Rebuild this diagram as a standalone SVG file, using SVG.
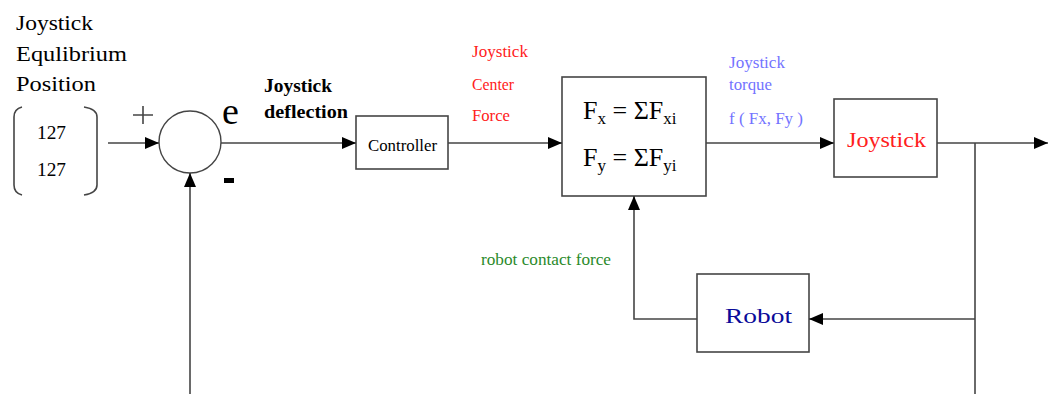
<svg xmlns="http://www.w3.org/2000/svg" width="1048" height="394" viewBox="0 0 1048 394">
  <style>
    .ln { stroke: #454545; stroke-width: 1.6; fill: none; }
    .box { stroke: #454545; stroke-width: 1.6; fill: #ffffff; }
    text { font-family: 'Liberation Serif', 'DejaVu Serif', serif; }
    .red { fill: #ff2020; }
    .blue { fill: #7373ff; }
  </style>
  <defs>
    <marker id="arrow" markerWidth="14" markerHeight="12" refX="14" refY="6" orient="auto" markerUnits="userSpaceOnUse">
      <path d="M0,0 L14,6 L0,12 Z" fill="#000000"/>
    </marker>
  </defs>
  <rect width="1048" height="394" fill="#ffffff"/>

  <!-- reference input -->
  <g id="reference">
    <text font-size="21" fill="#000" x="16" y="30" textLength="77" lengthAdjust="spacingAndGlyphs">Joystick</text>
    <text font-size="21" fill="#000" x="16" y="61" textLength="111" lengthAdjust="spacingAndGlyphs">Equlibrium</text>
    <text font-size="21" fill="#000" x="16" y="91" textLength="80" lengthAdjust="spacingAndGlyphs">Position</text>
    <path class="ln" d="M22,107 Q14,109 14,117 L14,185 Q14,193 22,195"/>
    <path class="ln" d="M84,107 Q97,109 97,117 L97,185 Q97,193 84,195"/>
    <text font-size="18" fill="#000" x="37" y="139" textLength="29" lengthAdjust="spacingAndGlyphs">127</text>
    <text font-size="18" fill="#000" x="37" y="176" textLength="29" lengthAdjust="spacingAndGlyphs">127</text>
  </g>

  <!-- summing junction -->
  <g id="sum">
    <circle cx="190" cy="142" r="31" fill="#ffffff" stroke="#454545" stroke-width="1.4"/>
    <path class="ln" d="M133,115 H153 M143,106 V124" stroke-width="1.2"/>
    <text font-size="38" fill="#000" x="222" y="124">e</text>
    <rect x="224" y="178" width="10" height="5" fill="#000"/>
  </g>

  <g id="deflection-label">
    <text font-size="18" font-weight="bold" fill="#000" x="264" y="92" textLength="68" lengthAdjust="spacingAndGlyphs">Joystick</text>
    <text font-size="18" font-weight="bold" fill="#000" x="264" y="118" textLength="84" lengthAdjust="spacingAndGlyphs">deflection</text>
  </g>

  <g id="controller">
    <rect class="box" x="356" y="116" width="92" height="53"/>
    <text font-size="16" fill="#000" x="368" y="151" textLength="69" lengthAdjust="spacingAndGlyphs">Controller</text>
  </g>

  <g id="center-force-label">
    <text class="red" font-size="16" x="472" y="57" textLength="56" lengthAdjust="spacingAndGlyphs">Joystick</text>
    <text class="red" font-size="16" x="472" y="90" textLength="42" lengthAdjust="spacingAndGlyphs">Center</text>
    <text class="red" font-size="16" x="472" y="121" textLength="38" lengthAdjust="spacingAndGlyphs">Force</text>
  </g>

  <g id="force-sum">
    <rect class="box" x="562" y="77" width="144" height="119"/>
    <text font-size="26" fill="#000" x="583" y="119">F<tspan font-size="17" dy="5">x</tspan><tspan dy="-5"> = </tspan>ΣF<tspan font-size="17" dy="5">xi</tspan></text>
    <text font-size="26" fill="#000" x="583" y="166">F<tspan font-size="17" dy="5">y</tspan><tspan dy="-5"> = </tspan>ΣF<tspan font-size="17" dy="5">yi</tspan></text>
  </g>

  <g id="torque-label">
    <text class="blue" font-size="16" x="729" y="68" textLength="56" lengthAdjust="spacingAndGlyphs">Joystick</text>
    <text class="blue" font-size="16" x="729" y="90" textLength="43" lengthAdjust="spacingAndGlyphs">torque</text>
    <text class="blue" font-size="16" x="729" y="124" textLength="74" lengthAdjust="spacingAndGlyphs">f ( Fx, Fy )</text>
  </g>

  <g id="joystick">
    <rect class="box" x="834" y="99" width="103" height="78"/>
    <text class="red" font-size="22" x="847" y="147" textLength="79" lengthAdjust="spacingAndGlyphs">Joystick</text>
  </g>

  <g id="robot">
    <rect class="box" x="697" y="274" width="112" height="78"/>
    <text font-size="21" fill="#0a0a99" x="725" y="323" textLength="67" lengthAdjust="spacingAndGlyphs">Robot</text>
  </g>

  <g id="contact-label">
    <text font-size="16" fill="#2a8a2a" x="481" y="265" textLength="130" lengthAdjust="spacingAndGlyphs">robot contact force</text>
  </g>

  <!-- connectors -->
  <g id="connectors">
    <line class="ln" x1="108" y1="143" x2="159" y2="143" marker-end="url(#arrow)"/>
    <line class="ln" x1="190" y1="394" x2="190" y2="173" marker-end="url(#arrow)"/>
    <line class="ln" x1="221" y1="143" x2="356" y2="143" marker-end="url(#arrow)"/>
    <line class="ln" x1="448" y1="143" x2="562" y2="143" marker-end="url(#arrow)"/>
    <line class="ln" x1="706" y1="143" x2="834" y2="143" marker-end="url(#arrow)"/>
    <line class="ln" x1="937" y1="143" x2="1048" y2="143" marker-end="url(#arrow)"/>
    <line class="ln" x1="975" y1="143" x2="975" y2="394"/>
    <line class="ln" x1="975" y1="319" x2="809" y2="319" marker-end="url(#arrow)"/>
    <polyline class="ln" points="697,319 634,319 634,196" marker-end="url(#arrow)"/>
  </g>
</svg>
